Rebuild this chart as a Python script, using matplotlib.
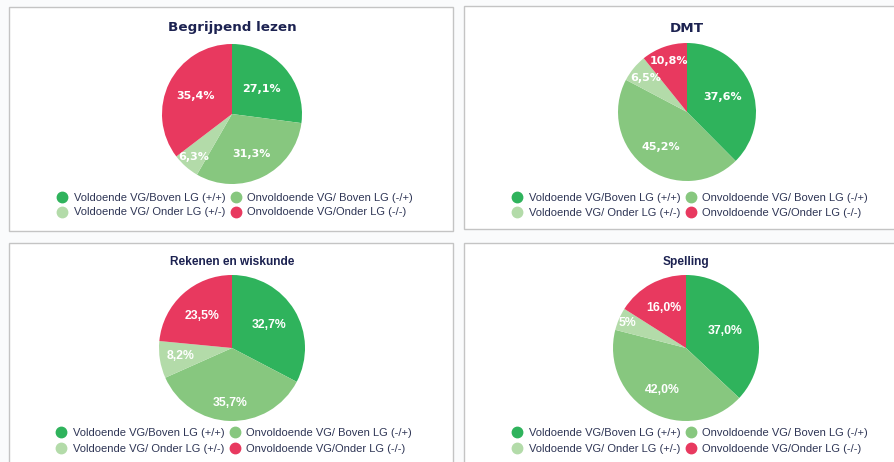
import matplotlib
matplotlib.use("Agg")
import matplotlib.pyplot as plt
from matplotlib.patches import Rectangle
from matplotlib.lines import Line2D
import numpy as np

# ---------------- data ----------------
categories = [
    "Voldoende VG/Boven LG (+/+)",
    "Onvoldoende VG/ Boven LG (-/+)",
    "Voldoende VG/ Onder LG (+/-)",
    "Onvoldoende VG/Onder LG (-/-)",
]
titles = ["Begrijpend lezen", "DMT", "Rekenen en wiskunde", "Spelling"]
begrijpend_values = [27.1, 31.3, 6.3, 35.4]
dmt_values = [37.6, 45.2, 6.5, 10.8]
rekenen_values = [32.7, 35.7, 8.2, 23.5]
spelling_values = [37.0, 42.0, 5.0, 16.0]
begrijpend_labels = ["27,1%", "31,3%", "6,3%", "35,4%"]
dmt_labels = ["37,6%", "45,2%", "6,5%", "10,8%"]
rekenen_labels = ["32,7%", "35,7%", "8,2%", "23,5%"]
spelling_labels = ["37,0%", "42,0%", "5%", "16,0%"]

# ---------------- style ----------------
colors = ["#2fb35c", "#87c77f", "#b3dba9", "#e8395f"]
title_color = "#1c2251"
legend_color = "#2e3555"
W, H = 894, 462

fig = plt.figure(figsize=(W / 100, H / 100), dpi=100)
fig.patch.set_facecolor("#fafbfc")


def fx(x):
    return x / W


def fy(y):
    return 1 - y / H


# panel frames (x0, y0, x1, y1) in pixels from top-left
panels = [(9, 7, 453, 231), (464, 6, 900, 229), (9, 243, 453, 470), (464, 243, 900, 470)]
for (x0, y0, x1, y1) in panels:
    fig.add_artist(Rectangle((fx(x0), fy(y1)), fx(x1 - x0), (y1 - y0) / H,
                             transform=fig.transFigure, facecolor="white",
                             edgecolor="#c4c4c4", linewidth=1.0, zorder=0))

specs = [
    dict(vals=begrijpend_values, labs=begrijpend_labels, title=titles[0],
         c=(232, 114), r=70, ty=28, tfont="DejaVu Sans", tsize=9.7,
         lfont="DejaVu Sans", lsize=8.0, ldist=[0.55, 0.64, 0.82, 0.58],
         leg=(58, 193), ls=0.4),
    dict(vals=dmt_values, labs=dmt_labels, title=titles[1],
         c=(687, 112), r=69, ty=28, tfont="DejaVu Sans", tsize=9.7,
         lfont="DejaVu Sans", lsize=8.0, ldist=[0.56, 0.63, 0.78, 0.78],
         leg=(513, 193), ls=0.45),
    dict(vals=rekenen_values, labs=rekenen_labels, title=titles[2],
         c=(232, 348), r=73, ty=262, tfont="Liberation Sans", tsize=8.6,
         lfont="Liberation Sans", lsize=8.8, ldist=[0.6, 0.75, 0.72, 0.6],
         leg=(57, 428), ls=0.55),
    dict(vals=spelling_values, labs=spelling_labels, title=titles[3],
         c=(686, 348), r=73, ty=262, tfont="Liberation Sans", tsize=8.6,
         lfont="Liberation Sans", lsize=8.8, ldist=[0.58, 0.66, 0.87, 0.62],
         leg=(513, 428), ls=0.55),
]

for s in specs:
    cx, cy = s["c"]
    r = s["r"]
    ax = fig.add_axes([fx(cx - r), fy(cy + r), 2 * r / W, 2 * r / H])
    wedges, _ = ax.pie(s["vals"], colors=colors, startangle=90, counterclock=False,
                       radius=1, wedgeprops=dict(linewidth=0))
    ax.set_xlim(-1, 1)
    ax.set_ylim(-1, 1)
    ax.set_aspect("equal")
    ax.axis("off")
    for w, lab, d in zip(wedges, s["labs"], s["ldist"]):
        ang = np.deg2rad((w.theta1 + w.theta2) / 2)
        ax.text(d * np.cos(ang), d * np.sin(ang), lab, ha="center", va="center",
                color="white", fontsize=s["lsize"], fontweight="bold",
                family=s["lfont"])
    fig.text(fx(cx), fy(s["ty"]), s["title"], ha="center", va="center",
             color=title_color, fontsize=s["tsize"], fontweight="bold",
             family=s["tfont"])

    handles = [Line2D([], [], linestyle="none", marker="o", markersize=7.5,
                      markerfacecolor=col, markeredgecolor=col) for col in colors]
    order = [0, 2, 1, 3]
    lx, ly = s["leg"]
    fig.legend([handles[i] for i in order], [categories[i] for i in order],
               ncol=2, loc="upper left", bbox_to_anchor=(fx(lx), fy(ly)),
               frameon=False, prop=dict(family="Liberation Sans", size=8),
               labelcolor=legend_color, handlelength=0.8, handletextpad=0.6,
               columnspacing=0.6, borderpad=0, borderaxespad=0,
               labelspacing=s["ls"])

fig.savefig("out.png", dpi=100, facecolor=fig.get_facecolor())
